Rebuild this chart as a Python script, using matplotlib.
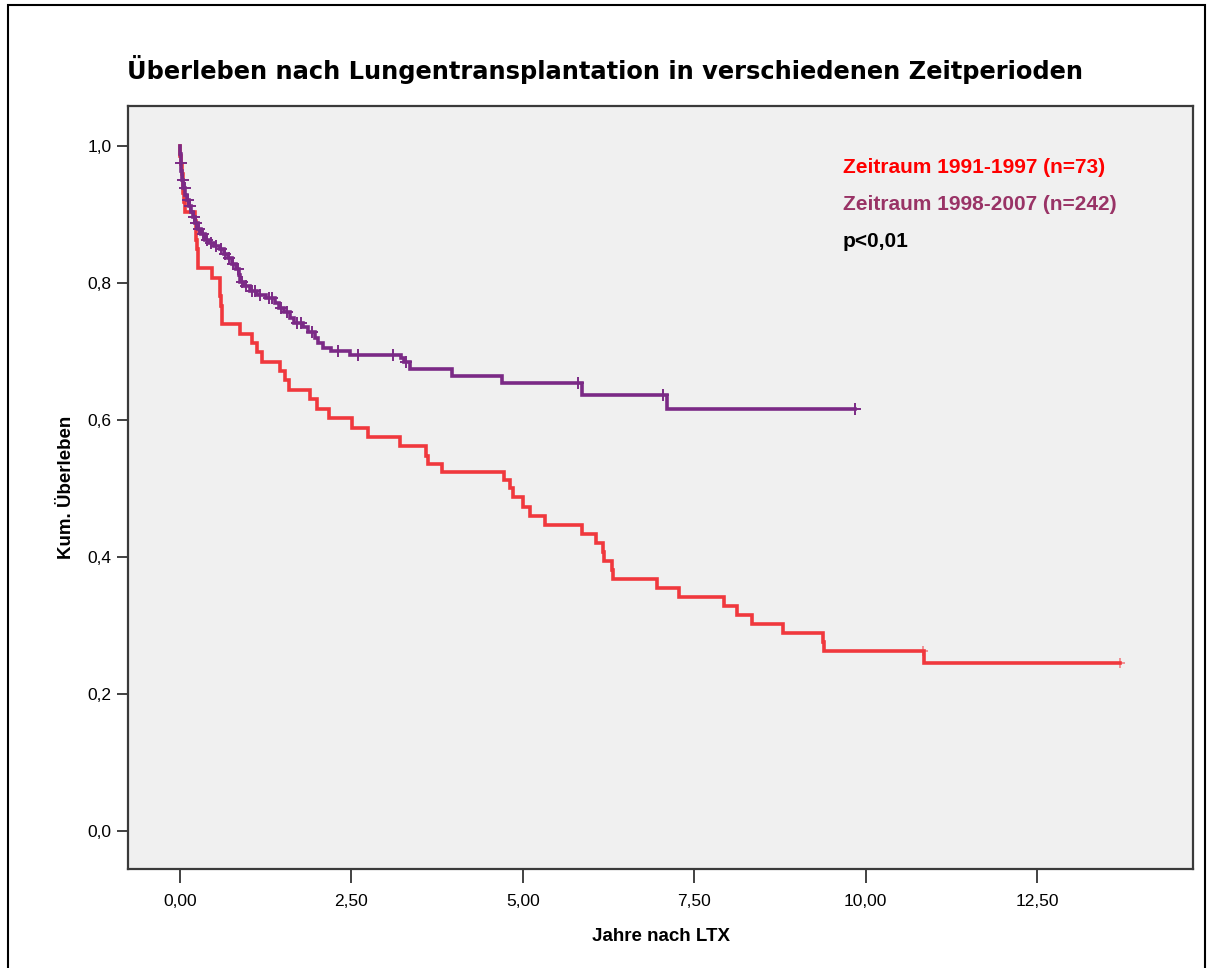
import matplotlib
matplotlib.use('Agg')
import matplotlib.pyplot as plt
import numpy as np
from matplotlib.patches import Rectangle

plt.rcParams['font.family'] = ['Liberation Sans', 'DejaVu Sans']

# ==== Kaplan-Meier Daten (Jahre nach LTX, kum. Überleben nach dem Ereignis)
# Zeitraum 1991-1997
red_time = [0.0, 0.02, 0.03, 0.04, 0.05, 0.06, 0.07, 0.22, 0.23, 0.24, 0.25, 0.26, 0.27,
            0.47, 0.58, 0.59, 0.60, 0.61, 0.62, 0.88, 1.05, 1.12, 1.20, 1.46, 1.53, 1.59,
            1.90, 2.00, 2.17, 2.51, 2.74, 3.21, 3.59, 3.62, 3.82, 4.73, 4.81, 4.86, 5.00,
            5.10, 5.32, 5.86, 6.07, 6.17, 6.18, 6.30, 6.31, 6.96, 7.28, 7.93, 8.12, 8.34,
            8.80, 9.38, 9.39, 10.85]
red_surv = [0.986, 0.973, 0.959, 0.945, 0.932, 0.918, 0.904, 0.890, 0.877, 0.863, 0.849,
            0.836, 0.822, 0.808, 0.795, 0.781, 0.767, 0.753, 0.740, 0.726, 0.712, 0.699,
            0.685, 0.671, 0.658, 0.644, 0.630, 0.616, 0.603, 0.589, 0.575, 0.562, 0.548,
            0.536, 0.524, 0.512, 0.500, 0.488, 0.473, 0.460, 0.447, 0.434, 0.420, 0.407,
            0.394, 0.381, 0.368, 0.355, 0.342, 0.328, 0.315, 0.302, 0.289, 0.276, 0.263,
            0.245]
red_end = 13.71
red_censored = [10.83, 13.71]

# Zeitraum 1998-2007
purple_time = [0.0, 0.01, 0.02, 0.03, 0.05, 0.08, 0.10, 0.13, 0.16, 0.19, 0.22, 0.26,
               0.30, 0.36, 0.42, 0.50, 0.58, 0.64, 0.70, 0.76, 0.82, 0.86, 0.88, 0.94,
               1.02, 1.12, 1.25, 1.38, 1.44, 1.52, 1.60, 1.66, 1.80, 1.87, 1.97, 2.02,
               2.08, 2.20, 2.48, 3.22, 3.27, 3.35, 3.97, 4.70, 5.86, 7.10]
purple_surv = [0.988, 0.975, 0.963, 0.950, 0.938, 0.929, 0.921, 0.913, 0.904, 0.896,
               0.888, 0.879, 0.871, 0.863, 0.858, 0.854, 0.849, 0.842, 0.836, 0.828,
               0.820, 0.811, 0.802, 0.795, 0.788, 0.783, 0.778, 0.771, 0.764, 0.757,
               0.749, 0.742, 0.736, 0.729, 0.720, 0.712, 0.705, 0.700, 0.695, 0.690,
               0.684, 0.674, 0.664, 0.654, 0.636, 0.616]
purple_end = 9.85
purple_censored = [0.01, 0.04, 0.07, 0.11, 0.15, 0.20, 0.24, 0.28, 0.33, 0.39, 0.45,
                   0.53, 0.60, 0.66, 0.72, 0.78, 0.84, 0.91, 0.97, 1.05, 1.09, 1.16,
                   1.30, 1.34, 1.48, 1.56, 1.70, 1.76, 1.92, 2.30, 2.60, 3.10, 3.30,
                   5.80, 7.05, 9.85]

legend_texts = ['Zeitraum 1991-1997 (n=73)', 'Zeitraum 1998-2007 (n=242)', 'p<0,01']
xticks = [0, 2.5, 5, 7.5, 10, 12.5]
yticks = [0.0, 0.2, 0.4, 0.6, 0.8, 1.0]

red_line = '#f0383d'
purple_line = '#7b2a86'


def km_curve(times, surv, end):
    # Treppenfunktion ab S=1 bei t=0
    t = [0.0] + list(times) + [end]
    s = [1.0] + list(surv) + [surv[-1]]
    return t, s


def surv_at(times, surv, tc):
    idx = np.searchsorted(times, tc, side='right') - 1
    return [1.0 if i < 0 else surv[i] for i in idx]


fig = plt.figure(figsize=(12.16, 9.68), dpi=100)
fig.patch.set_facecolor('white')
ax = fig.add_axes([128 / 1216, 1 - 869 / 968, 1065 / 1216, 763 / 968])
ax.set_facecolor('#f0f0f0')

t, s = km_curve(red_time, red_surv, red_end)
ax.step(t, s, where='post', color=red_line, lw=2.6, solid_joinstyle='miter', zorder=3)
ax.plot(red_censored, surv_at(red_time, red_surv, red_censored), ls='none',
        marker='+', ms=7, mew=1.2, color=red_line, alpha=0.6, zorder=3)

t, s = km_curve(purple_time, purple_surv, purple_end)
ax.step(t, s, where='post', color=purple_line, lw=2.6, solid_joinstyle='miter', zorder=4)
ax.plot(purple_censored, surv_at(purple_time, purple_surv, purple_censored), ls='none',
        marker='+', ms=8, mew=1.4, color=purple_line, zorder=4)

ax.set_xlim(-0.758, 14.775)
ax.set_ylim(-0.0555, 1.0584)

ax.set_xticks(xticks)
ax.set_xticklabels([f'{v:.2f}'.replace('.', ',') for v in xticks], fontsize=12.5)
ax.set_yticks(yticks)
ax.set_yticklabels([f'{v:.1f}'.replace('.', ',') for v in yticks], fontsize=12.5)
ax.tick_params(axis='x', direction='out', length=10, width=1.3, color='#333333', pad=8)
ax.tick_params(axis='y', direction='out', length=8, width=1.3, color='#333333', pad=4)
for side in ['left', 'bottom', 'right', 'top']:
    ax.spines[side].set_color('#3a3a3a')
    ax.spines[side].set_linewidth(1.6)

ax.set_xlabel('Jahre nach LTX', fontweight='bold', fontsize=13.5, labelpad=14)
ax.set_ylabel('Kum. Überleben', fontweight='bold', fontsize=13.5, labelpad=9)

# Beschriftung der Gruppen
for txt, col, yy in zip(legend_texts, ['#ff0000', '#993366', 'black'], [0.92, 0.871, 0.822]):
    ax.text(0.671, yy, txt, transform=ax.transAxes, color=col, fontsize=15,
            fontweight='bold', va='center', ha='left')

fig.text(127 / 1216, 1 - 70 / 968,
         'Überleben nach Lungentransplantation in verschiedenen Zeitperioden',
         family=['DejaVu Sans'], fontweight='bold', fontsize=17.4, va='center', ha='left')

# Rahmen um die gesamte Grafik
fig.patches.append(Rectangle((8 / 1216, -0.02), 1205 / 1216 - 8 / 1216, 1.02 - 5 / 968,
                             transform=fig.transFigure, fill=False, edgecolor='black',
                             linewidth=1.5))

fig.savefig('out.png', dpi=100)
